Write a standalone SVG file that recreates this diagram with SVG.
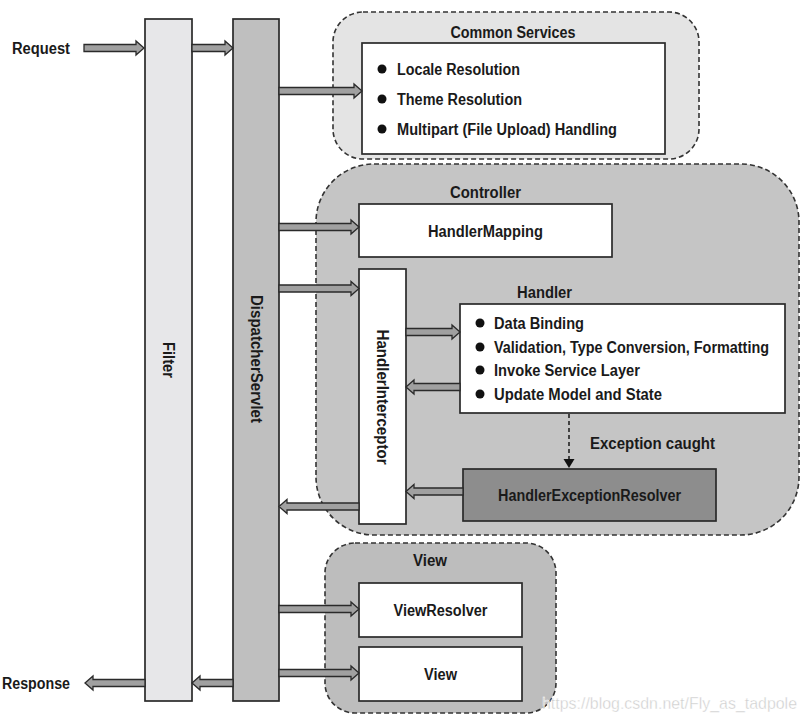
<svg xmlns="http://www.w3.org/2000/svg" width="806" height="722" viewBox="0 0 806 722">
<style>
text{font-family:"Liberation Sans",Arial,sans-serif;font-weight:bold;fill:#1a1a1a;font-size:16px}
.c{text-anchor:middle}
.grp{stroke:#333;stroke-width:1.6;stroke-dasharray:5,3}
.box{stroke:#2a2a2a;stroke-width:1.7}
.arr{fill:#a0a0a0;stroke:#2a2a2a;stroke-width:1.3;stroke-linejoin:miter}
.wm{fill:#cdcdcd;font-weight:normal;font-size:17px;stroke:#ffffff;stroke-width:0.4}
</style>
<rect width="806" height="722" fill="#ffffff"/>

<g id="filter">
<rect class="box" x="145" y="19" width="47" height="682" fill="#e7e7e9"/>
<text class="c" transform="translate(168.5,360) rotate(90)" dominant-baseline="central" textLength="36" lengthAdjust="spacingAndGlyphs">Filter</text>
</g>

<g id="dispatcherServlet">
<rect class="box" x="233" y="19" width="46" height="682" fill="#bfbfbf"/>
<text class="c" transform="translate(256,359) rotate(90)" dominant-baseline="central" textLength="128" lengthAdjust="spacingAndGlyphs">DispatcherServlet</text>
</g>

<g id="request"><text x="12" y="53.5" font-size="17" textLength="58" lengthAdjust="spacingAndGlyphs">Request</text></g>
<g id="response"><text x="2" y="689" font-size="17" textLength="68" lengthAdjust="spacingAndGlyphs">Response</text></g>

<g id="commonServices">
<rect class="grp" x="333" y="12" width="366" height="147" rx="30" fill="#e4e4e4"/>
<text class="c" x="513" y="37.5" textLength="125" lengthAdjust="spacingAndGlyphs">Common Services</text>
<rect class="box" x="362" y="43" width="303" height="111" fill="#ffffff"/>
<circle cx="382" cy="69" r="4.5" fill="#111"/>
<circle cx="382" cy="99" r="4.5" fill="#111"/>
<circle cx="382" cy="129" r="4.5" fill="#111"/>
<text x="397" y="75" textLength="123" lengthAdjust="spacingAndGlyphs">Locale Resolution</text>
<text x="397" y="105" textLength="125" lengthAdjust="spacingAndGlyphs">Theme Resolution</text>
<text x="397" y="135" textLength="220" lengthAdjust="spacingAndGlyphs">Multipart (File Upload) Handling</text>
</g>

<g id="controller">
<rect class="grp" x="316" y="164" width="483" height="371" rx="58" fill="#c5c5c5"/>
<text class="c" x="485.5" y="197.5" textLength="71" lengthAdjust="spacingAndGlyphs">Controller</text>
</g>

<g id="handlerMapping">
<rect class="box" x="359" y="204" width="253" height="53" fill="#ffffff"/>
<text class="c" x="485.5" y="236.5" textLength="115" lengthAdjust="spacingAndGlyphs">HandlerMapping</text>
</g>

<g id="handlerInterceptor">
<rect class="box" x="359" y="269" width="47" height="255" fill="#ffffff"/>
<text class="c" transform="translate(382.5,397) rotate(90)" dominant-baseline="central" textLength="135" lengthAdjust="spacingAndGlyphs">HandlerInterceptor</text>
</g>

<g id="handler">
<text class="c" x="544.5" y="297.5" textLength="55" lengthAdjust="spacingAndGlyphs">Handler</text>
<rect class="box" x="460" y="304" width="325" height="109" fill="#ffffff"/>
<circle cx="480" cy="323" r="4.5" fill="#111"/>
<circle cx="480" cy="347" r="4.5" fill="#111"/>
<circle cx="480" cy="370" r="4.5" fill="#111"/>
<circle cx="480" cy="394" r="4.5" fill="#111"/>
<text x="494" y="329" textLength="90" lengthAdjust="spacingAndGlyphs">Data Binding</text>
<text x="494" y="353" textLength="275" lengthAdjust="spacingAndGlyphs">Validation, Type Conversion, Formatting</text>
<text x="494" y="376" textLength="146" lengthAdjust="spacingAndGlyphs">Invoke Service Layer</text>
<text x="494" y="400" textLength="168" lengthAdjust="spacingAndGlyphs">Update Model and State</text>
</g>

<g id="handlerExceptionResolver">
<rect class="box" x="463" y="469" width="253" height="52" fill="#8d8d8d"/>
<text class="c" x="589.5" y="501" textLength="183" lengthAdjust="spacingAndGlyphs">HandlerExceptionResolver</text>
</g>

<g id="view">
<rect class="grp" x="325" y="543" width="231" height="170" rx="30" fill="#bdbdbd"/>
<text class="c" x="430" y="566" textLength="34" lengthAdjust="spacingAndGlyphs">View</text>
</g>
<g id="viewResolver">
<rect class="box" x="359" y="583" width="163" height="54" fill="#ffffff"/>
<text class="c" x="440.5" y="616" textLength="94" lengthAdjust="spacingAndGlyphs">ViewResolver</text>
</g>
<g id="viewNode">
<rect class="box" x="359" y="647" width="163" height="54" fill="#ffffff"/>
<text class="c" x="440.5" y="680" textLength="33" lengthAdjust="spacingAndGlyphs">View</text>
</g>

<g id="connectors">
<path class="arr" d="M84,44.5 H136 V41 L144,48 L136,55 V51.5 H84 Z"/>
<path class="arr" d="M192,44.5 H225 V41 L233,48 L225,55 V51.5 H192 Z"/>
<path class="arr" d="M279,87.5 H354 V84 L362,91 L354,98 V94.5 H279 Z"/>
<path class="arr" d="M279,223.5 H351 V220 L359,227 L351,234 V230.5 H279 Z"/>
<path class="arr" d="M279,285 H351 V281.5 L359,288.5 L351,295.5 V292 H279 Z"/>
<path class="arr" d="M406,328.5 H452 V325 L460,332 L452,339 V335.5 H406 Z"/>
<path class="arr" d="M279,605.5 H351 V602 L359,609 L351,616 V612.5 H279 Z"/>
<path class="arr" d="M279,669.5 H351 V666 L359,673 L351,680 V676.5 H279 Z"/>
<path class="arr" d="M460,383.5 H414 V380 L406,387 L414,394 V390.5 H460 Z"/>
<path class="arr" d="M463,488 H414 V484.5 L406,491.5 L414,498.5 V495 H463 Z"/>
<path class="arr" d="M359,503 H287 V499.5 L279,506.5 L287,513.5 V510 H359 Z"/>
<path class="arr" d="M233,679.5 H200 V676 L192,683 L200,690 V686.5 H233 Z"/>
<path class="arr" d="M145,679.5 H93 V676 L85,683 L93,690 V686.5 H145 Z"/>
<line x1="569" y1="414" x2="569" y2="460" stroke="#222" stroke-width="1.6" stroke-dasharray="4,3"/>
<path d="M563.5,459 L574.5,459 L569,468 Z" fill="#111"/>
</g>

<g id="exceptionLabel"><text x="590" y="448.5" font-size="17" textLength="125" lengthAdjust="spacingAndGlyphs">Exception caught</text></g>

<g id="watermark"><text class="wm" x="542" y="709" textLength="255" lengthAdjust="spacingAndGlyphs">https://blog.csdn.net/Fly_as_tadpole</text></g>
</svg>
